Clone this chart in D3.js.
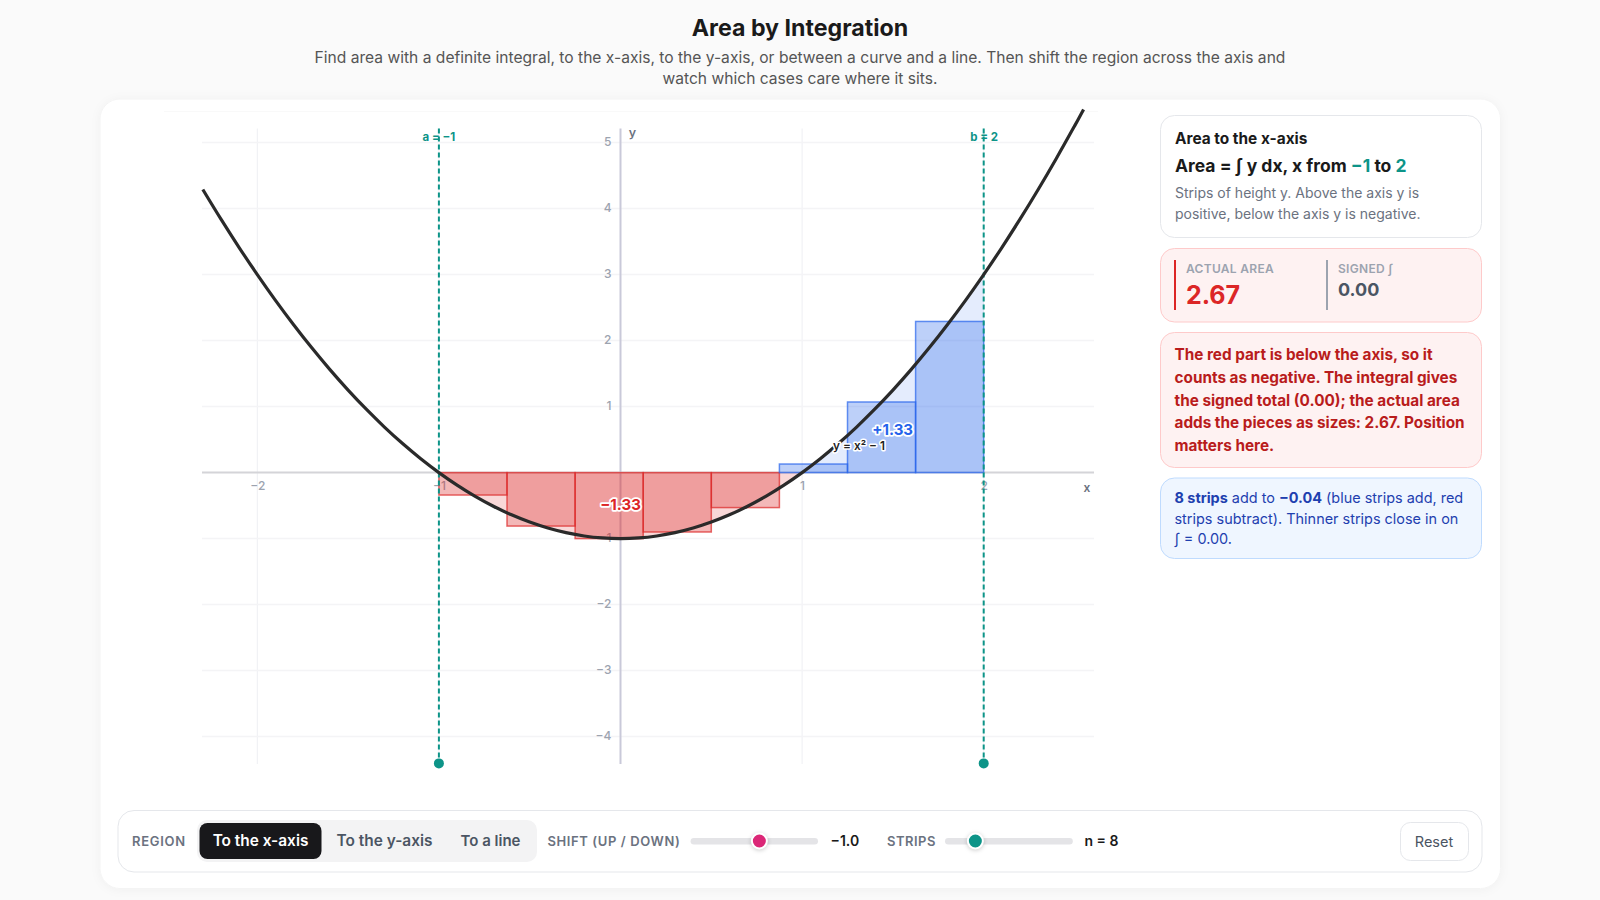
<!DOCTYPE html>
<html>
<head>
<meta charset="utf-8">
<script src="https://cdn.jsdelivr.net/npm/d3@7"></script>
<style>
  html, body { margin: 0; background: #fafafa; }
  svg { display: block; font-family: Inter, "Noto Sans", sans-serif; }
  .halo { paint-order: stroke; stroke: #fff; stroke-linejoin: round; }
</style>
</head>
<body>
<svg id="page" width="1600" height="900"></svg>
<script>
// values
var xTicks = [-2, -1, 1, 2];
var yTicks = [-4, -3, -2, -1, 1, 2, 3, 4, 5];
var curveX = [-2.3, -2.2, -2.1, -2, -1.9, -1.8, -1.7, -1.6, -1.5, -1.4, -1.3, -1.2, -1.1, -1, -0.9, -0.8, -0.7, -0.6, -0.5, -0.4, -0.3, -0.2, -0.1, 0,
  0.1, 0.2, 0.3, 0.4, 0.5, 0.6, 0.7, 0.8, 0.9, 1, 1.1, 1.2, 1.3, 1.4, 1.5, 1.6, 1.7, 1.8, 1.9, 2, 2.1, 2.2, 2.3, 2.4, 2.5, 2.55];
var curveY = [4.29, 3.84, 3.41, 3, 2.61, 2.24, 1.89, 1.56, 1.25, 0.96, 0.69, 0.44, 0.21, 0, -0.19, -0.36, -0.51, -0.64, -0.75, -0.84, -0.91, -0.96, -0.99, -1,
  -0.99, -0.96, -0.91, -0.84, -0.75, -0.64, -0.51, -0.36, -0.19, 0, 0.21, 0.44, 0.69, 0.96, 1.25, 1.56, 1.89, 2.24, 2.61, 3, 3.41, 3.84, 4.29, 4.76, 5.25, 5.5];
var stripLeft = [-1, -0.625, -0.25, 0.125, 0.5, 0.875, 1.25, 1.625];
var stripRight = [-0.625, -0.25, 0.125, 0.5, 0.875, 1.25, 1.625, 2];
var stripHeight = [-0.34, -0.81, -1, -0.9, -0.53, 0.13, 1.07, 2.29];
var bounds = [{ name: 'a', x: -1 }, { name: 'b', x: 2 }];
var shiftValue = -1.0;
var stripCount = 8;

var RED = '#dc2626', BLUE = '#2563eb', TEAL = '#0d9488';

var svg = d3.select('#page');

var x = d3.scaleLinear().domain([-2, 2]).range([257.3, 983.7]);
var y = d3.scaleLinear().domain([-4, 5]).range([736.6, 142.6]);
var shiftScale = d3.scaleLinear().domain([-4, 1.5]).range([698.6, 810]);
var stripScale = d3.scaleLinear().domain([2, 32]).range([953, 1064.8]);

var plotLeft = 202, plotRight = 1094, plotTop = 128.5, plotBottom = 764;

function text(g, px, py, str, o) {
  o = o || {};
  return g.append('text')
    .attr('x', px).attr('y', py)
    .attr('dy', '.35em')
    .attr('text-anchor', o.anchor || 'start')
    .attr('font-size', o.size || 14)
    .attr('font-weight', o.weight || 400)
    .attr('letter-spacing', o.spacing || 0)
    .attr('fill', o.color || '#1a1a1a')
    .text(str);
}

function card(px, py, w, h, r, fill, stroke) {
  return svg.append('rect')
    .attr('x', px + 0.5).attr('y', py + 0.5)
    .attr('width', w).attr('height', h).attr('rx', r)
    .attr('fill', fill).attr('stroke', stroke);
}

// header
text(svg, 800, 28, 'Area by Integration', { anchor: 'middle', size: 23.2, weight: 700 });
text(svg, 800, 58, 'Find area with a definite integral, to the x-axis, to the y-axis, or between a curve and a line. Then shift the region across the axis and', { anchor: 'middle', size: 15.6, color: '#555' });
text(svg, 800, 78.5, 'watch which cases care where it sits.', { anchor: 'middle', size: 15.6, color: '#555' });

// main card
card(99.5, 98.5, 1400.5, 789.5, 20, '#fff', '#f4f4f4').style('filter', 'drop-shadow(0 1px 5px rgba(0,0,0,.04))');
svg.append('line').attr('x1', 164).attr('x2', 1098).attr('y1', 111.5).attr('y2', 111.5).attr('stroke', '#f9f9f9');

// grid
var grid = svg.append('g');
grid.selectAll('.gx').data(xTicks).enter().append('line')
  .attr('x1', function (d) { return x(d); }).attr('x2', function (d) { return x(d); })
  .attr('y1', plotTop).attr('y2', plotBottom)
  .attr('stroke', '#eeeff3').attr('stroke-width', 1);
grid.selectAll('.gy').data(yTicks).enter().append('line')
  .attr('x1', plotLeft).attr('x2', plotRight)
  .attr('y1', function (d) { return y(d); }).attr('y2', function (d) { return y(d); })
  .attr('stroke', '#f4f4f6').attr('stroke-width', 1.5);

// axis lines
svg.append('line').attr('x1', plotLeft).attr('x2', plotRight).attr('y1', y(0)).attr('y2', y(0))
  .attr('stroke', '#d4d4d8').attr('stroke-width', 2);
svg.append('line').attr('x1', x(0)).attr('x2', x(0)).attr('y1', plotTop).attr('y2', plotBottom)
  .attr('stroke', '#c9c9d9').attr('stroke-width', 2);

// tick labels
var tickFormat = function (d) { return d < 0 ? '−' + Math.abs(d) : String(d); };
var xAxis = svg.append('g').attr('transform', 'translate(0,' + y(0) + ')')
  .call(d3.axisBottom(x).tickValues(xTicks).tickFormat(tickFormat).tickSize(0).tickPadding(9));
var yAxis = svg.append('g').attr('transform', 'translate(' + x(0) + ',0)')
  .call(d3.axisLeft(y).tickValues(yTicks).tickFormat(tickFormat).tickSize(0).tickPadding(9));
xAxis.select('.domain').remove();
yAxis.select('.domain').remove();
svg.selectAll('.tick text')
  .attr('fill', '#9ca3af').attr('font-size', 12).attr('font-weight', 500)
  .attr('font-family', 'Inter, "Noto Sans", sans-serif');
yAxis.selectAll('.tick text').attr('dy', '.2em');
text(svg, 1087, 488, 'x', { anchor: 'middle', size: 12, weight: 600, color: '#6b7280' });
text(svg, 632.5, 133, 'y', { anchor: 'middle', size: 12.5, weight: 600, color: '#6b7280' });

// curve points as objects for the generators
var points = curveX.map(function (d, i) { return { x: d, y: curveY[i] }; });

var area = d3.area()
  .x(function (d) { return x(d.x); })
  .y0(y(0))
  .y1(function (d) { return y(d.y); })
  .curve(d3.curveCatmullRom);

svg.append('path')
  .datum(points.filter(function (d) { return d.x >= -1 && d.x <= 1; }))
  .attr('d', area).attr('fill', RED).attr('fill-opacity', 0.18);
svg.append('path')
  .datum(points.filter(function (d) { return d.x >= 1 && d.x <= 2; }))
  .attr('d', area).attr('fill', BLUE).attr('fill-opacity', 0.12);

// strips
svg.selectAll('.strip').data(stripHeight).enter().append('rect')
  .attr('class', 'strip')
  .attr('x', function (d, i) { return x(stripLeft[i]); })
  .attr('width', function (d, i) { return x(stripRight[i]) - x(stripLeft[i]); })
  .attr('y', function (d) { return d > 0 ? y(d) : y(0); })
  .attr('height', function (d) { return Math.abs(y(d) - y(0)); })
  .attr('fill', function (d) { return d > 0 ? BLUE : RED; })
  .attr('fill-opacity', function (d) { return d > 0 ? 0.3 : 0.33; })
  .attr('stroke', function (d) { return d > 0 ? BLUE : RED; })
  .attr('stroke-opacity', 0.7)
  .attr('stroke-width', 1.5);

// bounds
svg.selectAll('.bound').data(bounds).enter().append('line')
  .attr('x1', function (d) { return x(d.x); }).attr('x2', function (d) { return x(d.x); })
  .attr('y1', plotTop).attr('y2', plotBottom)
  .attr('stroke', TEAL).attr('stroke-width', 2).attr('stroke-dasharray', '5 3');
svg.selectAll('.handle').data(bounds).enter().append('circle')
  .attr('cx', function (d) { return x(d.x); }).attr('cy', 763.4).attr('r', 5)
  .attr('fill', TEAL);

// curve
var line = d3.line()
  .x(function (d) { return x(d.x); })
  .y(function (d) { return y(d.y); })
  .curve(d3.curveCatmullRom);
svg.append('path').datum(points).attr('d', line)
  .attr('fill', 'none').attr('stroke', '#2a2a2a').attr('stroke-width', 3.2);

// plot labels
bounds.forEach(function (d) {
  text(svg, x(d.x) + (d.name == 'b' ? 0.5 : 0), 137, d.name + ' = ' + (d.x < 0 ? '−' + Math.abs(d.x) : d.x),
    { anchor: 'middle', size: 11.5, weight: 700, color: TEAL });
});
text(svg, 859, 446, 'y = x² − 1', { anchor: 'middle', size: 11.8, weight: 600, color: '#222' })
  .attr('class', 'halo').attr('stroke-width', 3);
text(svg, x(0), 505, '−1.33', { anchor: 'middle', size: 15, weight: 700, color: RED })
  .attr('class', 'halo').attr('stroke-width', 3.5);
text(svg, 892.7, 430, '+1.33', { anchor: 'middle', size: 15, weight: 700, color: BLUE })
  .attr('class', 'halo').attr('stroke-width', 3.5);

// side panel: definition
card(1160, 115, 321, 122, 14, '#fff', '#e5e7eb');
text(svg, 1175, 138.5, 'Area to the x-axis', { size: 15.4, weight: 700 });
var formula = text(svg, 1175, 166, 'Area = ∫ y dx, x from ', { size: 17.5, weight: 700 });
formula.append('tspan').attr('fill', TEAL).text('−1');
formula.append('tspan').text(' to ');
formula.append('tspan').attr('fill', TEAL).text('2');
text(svg, 1175, 193, 'Strips of height y. Above the axis y is', { size: 14, color: '#6b7280' });
text(svg, 1175, 214, 'positive, below the axis y is negative.', { size: 14, color: '#6b7280' });

// side panel: stats
card(1160, 248, 321, 73.5, 14, '#fef2f2', '#fecaca');
svg.append('rect').attr('x', 1174).attr('y', 260).attr('width', 2).attr('height', 50).attr('fill', RED);
svg.append('rect').attr('x', 1326).attr('y', 260).attr('width', 2).attr('height', 50).attr('fill', '#9ca3af');
text(svg, 1186, 268.5, 'ACTUAL AREA', { size: 12, weight: 600, color: '#9ca3af', spacing: 0.3 });
text(svg, 1186, 295, '2.67', { size: 25, weight: 700, color: RED });
text(svg, 1338, 268.5, 'SIGNED ∫', { size: 12, weight: 600, color: '#9ca3af', spacing: 0.3 });
text(svg, 1338, 290, '0.00', { size: 18, weight: 700, color: '#4b5563' });

// side panel: red note
card(1160, 332, 321, 135, 14, '#fef2f2', '#fecaca');
['The red part is below the axis, so it',
 'counts as negative. The integral gives',
 'the signed total (0.00); the actual area',
 'adds the pieces as sizes: 2.67. Position',
 'matters here.'].forEach(function (d, i) {
  text(svg, 1174.5, 355 + i * 22.6, d, { size: 15.3, weight: 700, color: '#b91c1c' });
});

// side panel: blue note
card(1160, 477.5, 321, 80.5, 14, '#eff6ff', '#bfdbfe');
var note = text(svg, 1174.5, 498, '', { size: 14.45, color: '#1e40af' });
note.append('tspan').attr('font-weight', 700).text('8 strips');
note.append('tspan').text(' add to ');
note.append('tspan').attr('font-weight', 700).text('−0.04');
note.append('tspan').text(' (blue strips add, red');
text(svg, 1174.5, 518.5, 'strips subtract). Thinner strips close in on', { size: 14.45, color: '#1e40af' });
text(svg, 1174.5, 539, '∫ = 0.00.', { size: 14.45, color: '#1e40af' });

// controls
card(117.5, 810, 1364, 61.5, 16, '#fff', '#e5e7eb');
text(svg, 132, 841, 'REGION', { size: 13, weight: 600, color: '#6b7280', spacing: 0.7 });
svg.append('rect').attr('x', 197).attr('y', 820).attr('width', 340).attr('height', 42).attr('rx', 10).attr('fill', '#f3f3f4');
svg.append('rect').attr('x', 199.5).attr('y', 823).attr('width', 122).attr('height', 36).attr('rx', 8).attr('fill', '#18181b');
text(svg, 260.5, 840.5, 'To the x-axis', { anchor: 'middle', size: 15.4, weight: 600, color: '#fff' });
text(svg, 384.5, 840.5, 'To the y-axis', { anchor: 'middle', size: 15.4, weight: 600, color: '#4b5563' });
text(svg, 490.5, 840.5, 'To a line', { anchor: 'middle', size: 15, weight: 600, color: '#4b5563' });

function slider(scale, value, x0, x1, color) {
  svg.append('rect').attr('x', x0).attr('y', 838).attr('width', x1 - x0).attr('height', 6.5).attr('rx', 3.25).attr('fill', '#e4e4e7');
  svg.append('circle').attr('cx', scale(value)).attr('cy', 841).attr('r', 7.5)
    .attr('fill', color).attr('stroke', '#fff').attr('stroke-width', 2)
    .style('filter', 'drop-shadow(0 1px 2px rgba(0,0,0,.2))');
}
text(svg, 547.5, 841, 'SHIFT (UP / DOWN)', { size: 13, weight: 600, color: '#6b7280', spacing: 0.6 });
slider(shiftScale, shiftValue, 690.6, 818, '#db2777');
text(svg, 830.5, 841, '−' + Math.abs(shiftValue).toFixed(1), { size: 14, weight: 600 });
text(svg, 887, 841, 'STRIPS', { size: 13, weight: 600, color: '#6b7280', spacing: 0.5 });
slider(stripScale, stripCount, 945, 1072.8, TEAL);
text(svg, 1084.5, 841, 'n = ' + stripCount, { size: 14, weight: 600 });

card(1400, 822, 68, 38, 10, '#fff', '#e5e7eb');
text(svg, 1434, 841.5, 'Reset', { anchor: 'middle', size: 14.5, color: '#4b5563' });
</script>
</body>
</html>
